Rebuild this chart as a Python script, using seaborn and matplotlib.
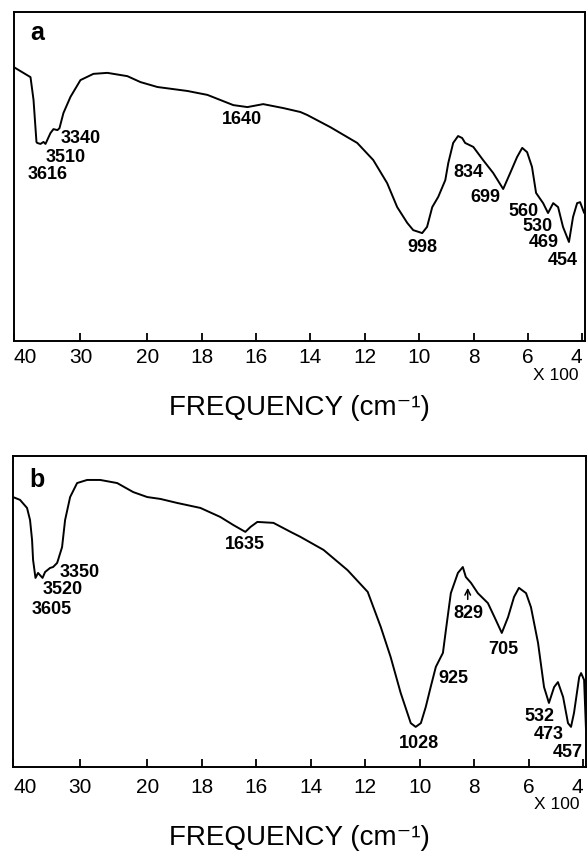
import numpy as np
import seaborn as sns
import matplotlib
matplotlib.use("Agg")
import matplotlib.pyplot as plt

# ---- spectrum a (wavenumber cm-1, transmittance %) ----
wn_a = [4000, 3746, 3701, 3657, 3646, 3597, 3552, 3522, 3448, 3403, 3343, 3313,
        3254, 3149, 3000, 2806, 2597, 2299, 2104, 1963, 1853, 1779, 1684, 1632,
        1574, 1500, 1437, 1412, 1327, 1228, 1169, 1118, 1081, 1044, 1022, 989,
        971, 952, 930, 904, 893, 875, 857, 842, 831, 801, 765, 728, 691, 665,
        640, 621, 603, 585, 570, 544, 526, 507, 489, 471, 449, 434, 419, 408, 393]
tr_a = [83.3, 80.2, 73.3, 60.5, 60.2, 59.9, 60.5, 59.9, 63.2, 64.4, 64.1, 64.7,
        69.3, 74.2, 79.3, 81.2, 81.5, 80.5, 78.7, 77.2, 76.0, 74.8, 71.7, 71.1,
        72.0, 70.8, 69.6, 68.7, 65.0, 60.2, 55.0, 48.0, 40.7, 35.9, 33.7, 32.8,
        34.7, 40.7, 43.8, 48.9, 54.1, 60.2, 62.3, 61.7, 60.2, 59.0, 55.0, 51.1,
        46.2, 51.1, 55.9, 58.7, 57.4, 52.9, 45.0, 41.9, 38.9, 41.9, 40.7, 34.7,
        30.1, 37.7, 41.9, 42.2, 38.9]

labels_a = ["3340", "3510", "3616", "1640", "998", "834", "699", "560", "530", "469", "454"]
lab_x_a = [3000, 3224, 3493, 1651, 989, 820, 757, 618, 563, 540, 471]
lab_y_a = [61.7, 55.9, 50.5, 67.2, 28.3, 51.1, 43.5, 39.5, 34.7, 29.8, 24.6]

# ---- spectrum b ----
wn_b = [4000, 3896, 3791, 3746, 3716, 3701, 3665, 3627, 3560, 3522, 3448, 3403,
        3343, 3328, 3269, 3224, 3149, 3045, 2896, 2701, 2448, 2209, 2000, 1952,
        1890, 1805, 1732, 1684, 1640, 1621, 1596, 1537, 1474, 1438, 1353, 1265,
        1191, 1143, 1107, 1070, 1033, 1015, 996, 978, 960, 941, 915, 904, 886,
        860, 842, 831, 812, 787, 750, 721, 699, 676, 654, 636, 610, 592, 566,
        544, 526, 507, 493, 474, 456, 445, 434, 415, 408, 397, 390]
tr_b = [86.8, 85.9, 83.3, 79.4, 73.0, 66.6, 60.8, 62.4, 60.8, 62.7, 64.0, 64.3,
        65.6, 66.6, 70.7, 79.4, 86.8, 91.3, 92.3, 92.3, 91.3, 88.4, 86.8, 86.2,
        84.9, 83.3, 80.4, 77.8, 75.6, 77.2, 78.8, 78.5, 75.6, 74.0, 69.8, 63.3,
        56.3, 45.0, 35.4, 23.8, 14.1, 12.9, 14.1, 19.3, 25.7, 32.2, 36.7, 44.1,
        55.9, 62.4, 64.3, 61.1, 59.2, 55.9, 52.7, 47.3, 43.1, 48.2, 54.7, 57.6,
        55.9, 51.4, 39.9, 25.7, 20.6, 25.7, 27.3, 22.5, 14.1, 12.9, 17.4, 28.9,
        30.2, 28.0, 12.0]

labels_b = ["3350", "3520", "3605", "1635", "1028", "925", "829", "705", "532", "473", "457"]
lab_x_b = [3000, 3254, 3418, 1640, 1004, 875, 820, 695, 562, 526, 456]
lab_y_b = [62.4, 57.2, 50.5, 71.4, 7.7, 28.6, 49.5, 37.9, 16.1, 10.3, 4.8]

tick_wn = [4000, 3000, 2000, 1800, 1600, 1400, 1200, 1000, 800, 600, 400]
tick_text = ["40", "30", "20", "18", "16", "14", "12", "10", "8", "6", "4"]

# chart paper changes scale at 2000 cm-1
K = 4.06


def fwd(w):
    w = np.asarray(w, dtype=float)
    return np.where(w <= 2000, w * K, 2000 * K + (w - 2000))


def inv(t):
    t = np.asarray(t, dtype=float)
    return np.where(t <= 2000 * K, t / K, t - 2000 * K + 2000)


sns.set_style("white")
plt.rcParams['font.family'] = ['Liberation Sans', 'DejaVu Sans']
plt.rcParams['text.color'] = 'black'
plt.rcParams['axes.labelcolor'] = 'black'
plt.rcParams['xtick.color'] = 'black'
plt.rcParams['axes.edgecolor'] = 'black'

fig = plt.figure(figsize=(5.88, 8.51), dpi=100)
ax_a = fig.add_axes([13.5 / 588, 1 - 341 / 851, 571.5 / 588, 329 / 851])
ax_b = fig.add_axes([13 / 588, 1 - 767 / 851, 573 / 588, 311 / 851])

panels = [
    (ax_a, wn_a, tr_a, labels_a, lab_x_a, lab_y_a, "a", 0.936, 5.0, -0.165, -0.104),
    (ax_b, wn_b, tr_b, labels_b, lab_x_b, lab_y_b, "b", 0.923, 7.8, -0.185, -0.122),
]

for ax, wn, tr, labs, lx, ly, letter, ly_let, pad, xlab_y, x100_y in panels:
    sns.lineplot(x=wn, y=tr, ax=ax, color="black", linewidth=1.4, sort=False)
    ax.set_xscale("function", functions=(fwd, inv))
    ax.set_xlim(4000, 390)
    ax.set_ylim(0, 100)
    ax.set_yticks([])
    ax.set_ylabel("")
    ax.set_xticks(tick_wn)
    ax.set_xticklabels(tick_text)
    ax.minorticks_off()
    ax.tick_params(axis="x", direction="in", length=6, width=1.3,
                   labelsize=15, pad=pad, bottom=True)
    ax.get_xticklabels()[0].set_ha("left")
    ax.get_xticklabels()[-1].set_ha("right")
    for sp in ax.spines.values():
        sp.set_linewidth(1.4)

    for t, x, y in zip(labs, lx, ly):
        ax.text(x, y, t, ha="center", va="center", fontsize=13, fontweight="bold")

    ax.text(0.041, ly_let, letter, transform=ax.transAxes, ha="center", va="center",
            fontsize=18, fontweight="bold")
    ax.set_xlabel("FREQUENCY (cm\u207b\u00b9)", fontsize=20)
    ax.xaxis.set_label_coords(0.5, xlab_y)
    ax.text(0.949, x100_y, "X 100", transform=ax.transAxes, ha="center",
            va="center", fontsize=12.5)

ax_b.annotate("", xy=(824, 58.5), xytext=(824, 53.0),
              arrowprops=dict(arrowstyle="->", color="black", lw=1.1))

fig.savefig("out.png", dpi=100)
